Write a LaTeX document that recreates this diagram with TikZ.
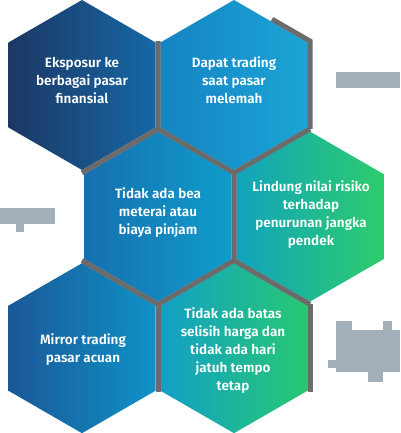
\documentclass[tikz,border=0pt]{standalone}
\usepackage{fontspec}
\newfontfamily\hexfont{Fira Sans}[UprightFont=* SemiBold]
\definecolor{gapgray}{HTML}{6B6B6B}
\definecolor{blobgray}{HTML}{A3B0BA}
\definecolor{cA1}{HTML}{1C3763}\definecolor{cA2}{HTML}{1668A6}
\definecolor{cB1}{HTML}{1583C2}\definecolor{cB2}{HTML}{1BA5D6}
\definecolor{cC1}{HTML}{166FAE}\definecolor{cC2}{HTML}{0F9DCC}
\definecolor{cD1}{HTML}{11A3BD}\definecolor{cD2}{HTML}{2DCD6C}
\definecolor{cE1}{HTML}{1A5896}\definecolor{cE2}{HTML}{0F92C8}
\definecolor{cF1}{HTML}{12A0C6}\definecolor{cF2}{HTML}{28C872}
\newcommand\hexcellpath[4]{%
  \path[#4,shift={(#1,#2)}] (90:#3) -- (30:#3) -- (-30:#3) -- (-90:#3) -- (-150:#3) -- (150:#3) -- cycle;}
\tikzset{
  hextext/.style={align=center,text=white,inner sep=0pt,
    font=\hexfont\fontsize{13.5}{18}\selectfont},
  gapline/.style={draw=gapgray,line width=5pt,line join=miter},
  blob/.style={fill=blobgray}
}
\begin{document}
\begin{tikzpicture}[x=1pt,y=-1pt]
\useasboundingbox (0,0) rectangle (400,433);
\fill[white] (0,0) rectangle (400,433);
% coloured cells
\hexcellpath{82}{85}{85}{left color=cA1,right color=cA2}
\hexcellpath{234}{85}{85}{left color=cB1,right color=cB2}
\hexcellpath{158}{216.6}{85}{left color=cC1,right color=cC2}
\hexcellpath{310}{216.6}{85}{left color=cD1,right color=cD2}
\hexcellpath{82}{348.2}{85}{left color=cE1,right color=cE2}
\hexcellpath{234}{348.2}{85}{left color=cF1,right color=cF2}
% gaps between cells
\coordinate (g1) at (158,41.1);
\coordinate (g2) at (158,128.9);
\coordinate (g3) at (234,172.8);
\coordinate (g4) at (234,260.5);
\coordinate (g5) at (310,304.4);
\coordinate (g6) at (82,172.8);
\coordinate (g7) at (310,128.9);
\coordinate (g8) at (82,260.5);
\coordinate (g9) at (158,304.4);
\coordinate (g10) at (158,392.1);
\coordinate (g11) at (272,19.2);
\coordinate (g12) at (310,41.1);
\coordinate (g13) at (310,392.1);
\draw[gapline] (g1) -- (g2) -- (g3) -- (g4) -- (g5);
\draw[gapline] (g6) -- (g2);
\draw[gapline] (g3) -- (g7);
\draw[gapline] (g8) -- (g9) -- (g4);
\draw[gapline] (g9) -- (g10);
\draw[gapline] (g11) -- (g12) -- (g7);
\draw[gapline] (g5) -- (g13);
% texts
\node[hextext] (h1) at (82,80) {Eksposur ke\\berbagai pasar\\finansial};
\node[hextext] (h2) at (234,80) {Dapat trading\\saat pasar\\melemah};
\node[hextext] (h3) at (158,213) {Tidak ada bea\\meterai atau\\biaya pinjam};
\node[hextext] (h4) at (311,215) {Lindung nilai risiko\\terhadap\\penurunan jangka\\pendek};
\node[hextext] (h5) at (83,350) {Mirror trading\\pasar acuan};
\node[hextext] (h6) at (233,351) {Tidak ada batas\\selisih harga dan\\tidak ada hari\\jatuh tempo\\tetap};
% blurred side blocks
\fill[blob] (336,72) rectangle (400,88);
\fill[blob] (0,208) rectangle (55,224);
\fill[blob] (16,224) rectangle (24,232);
\fill[blob] (336,330) rectangle (400,372);
\fill[blob] (336,321) rectangle (352,330);
\fill[blob] (383,321) rectangle (392,330);
\fill[blob] (328,360) rectangle (336,368);
\fill[blob] (368,372) rectangle (383,382);
\end{tikzpicture}
\end{document}
